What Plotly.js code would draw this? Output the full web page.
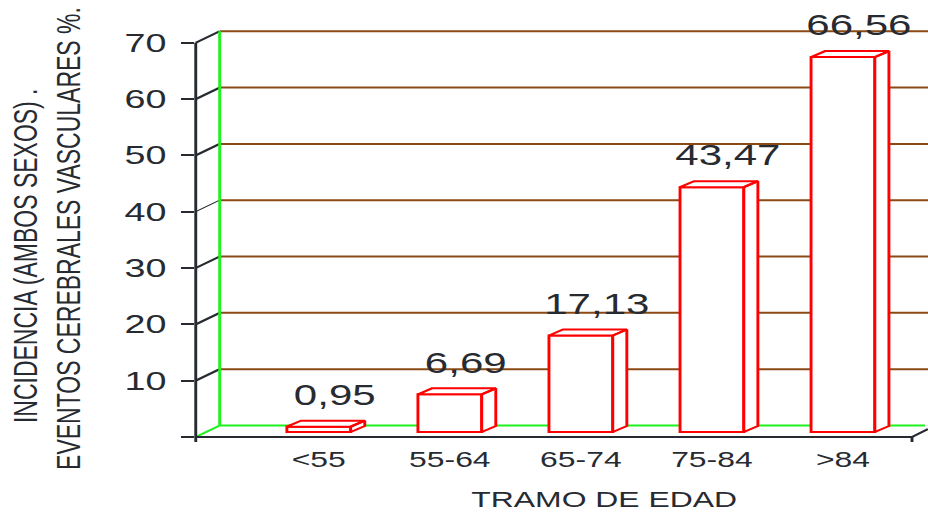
<!DOCTYPE html>
<html>
<head>
<meta charset="utf-8">
<script src="https://cdn.plot.ly/plotly-3.0.1.min.js"></script>
<style>
  html, body { margin: 0; padding: 0; background: #ffffff; overflow: hidden; }
  #wrap { width: 928px; height: 513px; overflow: hidden; }
  /* the chart is laid out at 640px and widened to the page, giving the wide lettering */
  #chart { width: 640px; height: 513px; transform: scale(1.45, 1); transform-origin: 0 0; }
</style>
</head>
<body>
<div id="wrap"><div id="chart"></div></div>
<script>
// ---- data ----
const categories = ['<55', '55-64', '65-74', '75-84', '>84'];
const incidence = [0.95, 6.69, 17.13, 43.47, 66.56];
const yTickValues = [0, 10, 20, 30, 40, 50, 60, 70];
const yTickLabels = ['', '10', '20', '30', '40', '50', '60', '70'];
const xTitle = 'TRAMO DE EDAD';
const yTitleLines = ['INCIDENCIA (AMBOS SEXOS) .', 'EVENTOS CEREBRALES VASCULARES %.'];

// ---- geometry ----
const W = 640, H = 513;
const M = { l: 135, r: 0, t: 5, b: 76 };
const plotW = W - M.l - M.r, plotH = H - M.t - M.b;
const xRange = [-0.939, 4.649];
const yRange = [0, 76.7];
const pxX = plotW / (xRange[1] - xRange[0]);
const pxY = plotH / (yRange[1] - yRange[0]);

const paperX = xv => (xv - xRange[0]) / (xRange[1] - xRange[0]);
const paperY = yv => (yv - yRange[0]) / (yRange[1] - yRange[0]);

// depth of the back wall
const backDxP = 16.5 / plotW, backDyP = 11.5 / plotH;
// columns stand a little behind the front edge of the floor
const barBase = 5 / pxY;
const barW = 44 / pxX;
const capDx = 9.7 / pxX, capDy = 6 / pxY;
const labelDx = 11 / pxX, labelGap = 23 / pxY;

const INK = '#272b31';
const BROWN = '#8b4a14';
const GREEN = '#1ff21f';
const RED = '#ff0000';
const FONT = 'Liberation Sans, Arial, sans-serif';

// ---- frame: back wall grid, floor, front axis ----
const shapes = [];
function seg(x0, y0, x1, y1, color, width) {
  shapes.push({ type: 'line', xref: 'paper', yref: 'paper', x0, y0, x1, y1,
                line: { color, width }, layer: 'below' });
}
yTickValues.filter(v => v > 0).forEach(v => {
  const y = paperY(v);
  seg(backDxP, y + backDyP, 1, y + backDyP, BROWN, 2);
  seg(0, y, backDxP, y + backDyP, INK, v === 40 ? 1 : 2);
});
const topY = paperY(70);
const floorEnd = (912 / 1.45 - M.l) / plotW;
seg(backDxP, backDyP, backDxP, topY + backDyP, GREEN, 2);
seg(0, 0, backDxP, backDyP, GREEN, 2);
seg(backDxP, backDyP, (925 / 1.45 - M.l) / plotW, backDyP, GREEN, 2);
seg(0, 0, 0, topY, INK, 2);
seg(0, 0, floorEnd, 0, INK, 2);
seg(floorEnd, 0, 1, 8 / plotH, INK, 2);
seg(0, 0, 0, -5 / plotH, INK, 2);
seg(floorEnd, 0, floorEnd, -5 / plotH, INK, 2);

// ---- columns ----
const xIdx = categories.map((c, i) => i);

const bars = {
  type: 'bar', x: xIdx, y: incidence, base: barBase, width: barW,
  marker: { color: '#ffffff', line: { color: RED, width: 2 } },
  hoverinfo: 'skip'
};

// top and side faces of each column
const faceX = [], faceY = [];
incidence.forEach((v, i) => {
  const xl = i - barW / 2, xr = i + barW / 2;
  const top = barBase + v, bot = barBase;
  faceX.push(xl, xr, xr + capDx, xl + capDx, xl, null);
  faceY.push(top, top, top + capDy, top + capDy, top, null);
  faceX.push(xr, xr + capDx, xr + capDx, xr, xr, null);
  faceY.push(top, top + capDy, bot + capDy, bot, top, null);
});
const faces = {
  type: 'scatter', mode: 'lines', x: faceX, y: faceY, fill: 'toself',
  fillcolor: '#ffffff', line: { color: RED, width: 2 }, hoverinfo: 'skip'
};

const labels = {
  type: 'scatter', mode: 'text',
  x: xIdx.map(i => i + labelDx),
  y: incidence.map(v => barBase + v + capDy + labelGap),
  text: incidence.map(v => v.toFixed(2).replace('.', ',')),
  textposition: 'middle center',
  textfont: { family: FONT, size: 29, color: INK },
  cliponaxis: false, hoverinfo: 'skip'
};

const annotations = [
  { text: yTitleLines[0], xref: 'paper', yref: 'paper',
    x: (17.2 - M.l) / plotW, y: (437 - 256) / plotH, textangle: -90,
    xanchor: 'center', yanchor: 'middle', showarrow: false,
    font: { family: FONT, size: 23, color: INK } },
  { text: yTitleLines[1], xref: 'paper', yref: 'paper',
    x: (46.6 - M.l) / plotW, y: (437 - 238.5) / plotH, textangle: -90,
    xanchor: 'center', yanchor: 'middle', showarrow: false,
    font: { family: FONT, size: 23, color: INK } },
  { text: xTitle, xref: 'paper', yref: 'paper',
    x: (416.6 - M.l) / plotW, y: (437 - 499) / plotH,
    xanchor: 'center', yanchor: 'middle', showarrow: false,
    font: { family: FONT, size: 22, color: INK } }
];

const layout = {
  width: W, height: H, margin: M,
  paper_bgcolor: '#ffffff', plot_bgcolor: 'rgba(0,0,0,0)',
  showlegend: false, font: { family: FONT, color: INK },
  bargap: 0,
  xaxis: {
    range: xRange, tickvals: xIdx, ticktext: categories, ticks: '',
    showgrid: false, zeroline: false, showline: false, fixedrange: true,
    tickfont: { family: FONT, size: 22, color: INK }, ticklabelstandoff: 7
  },
  yaxis: {
    range: yRange, tickvals: yTickValues, ticktext: yTickLabels,
    ticks: 'outside', ticklen: 9, tickwidth: 2, tickcolor: INK,
    showgrid: false, zeroline: false, showline: false, fixedrange: true,
    tickfont: { family: FONT, size: 26, color: INK }, ticklabelstandoff: 5
  },
  shapes, annotations
};

Plotly.newPlot('chart', [bars, faces, labels], layout, { staticPlot: true, displayModeBar: false });
</script>
</body>
</html>
